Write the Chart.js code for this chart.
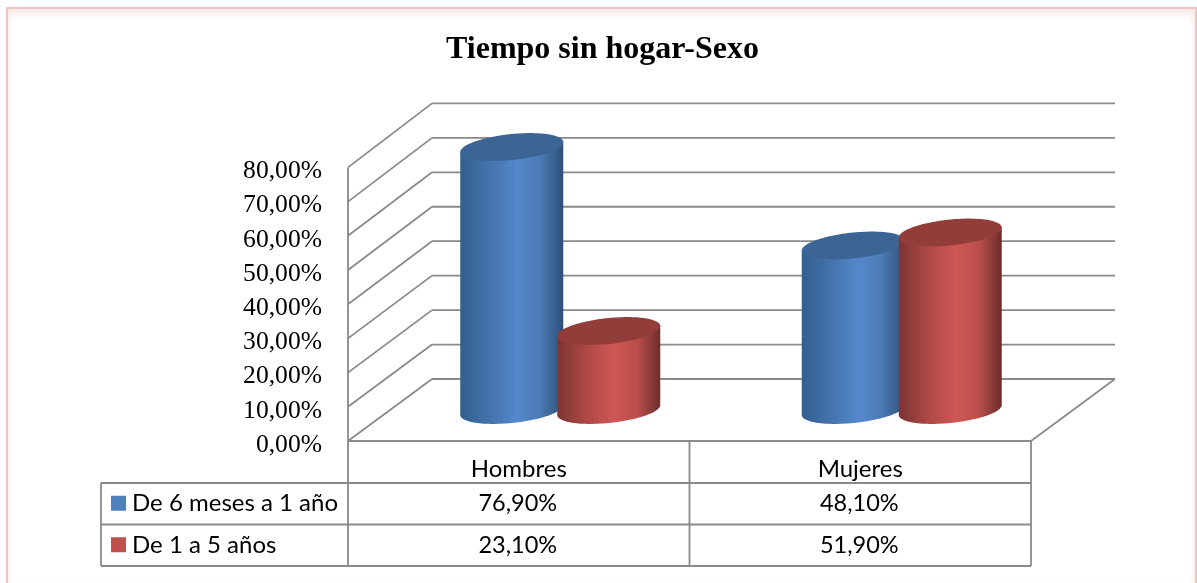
<!DOCTYPE html>
<html>
<head>
<meta charset="utf-8">
<style>
html,body{margin:0;padding:0;background:#fff;width:1197px;height:583px;overflow:hidden}
#frame{position:absolute;left:6px;top:7px;width:1187px;height:574px;border:2px solid #ecc4c3;border-bottom:1px solid #f0ecec;box-shadow:inset 0 10px 9px -5px #f8e6e5,inset 5px 0 6px -5px #f8e6e5,inset -5px 0 6px -4px #f8e6e5}
#wrap{position:absolute;left:0;top:0;width:1197px;height:583px}
</style>
<script src="https://cdn.jsdelivr.net/npm/chart.js@4"></script>
</head>
<body>
<div id="frame"></div>
<div id="wrap"><canvas id="c" width="1197" height="583"></canvas></div>
<script>
const titleText = 'Tiempo sin hogar-Sexo';
const categories = ['Hombres', 'Mujeres'];
const seriesNames = ['De 6 meses a 1 año', 'De 1 a 5 años'];
const sixMonthsToOneYear = [76.9, 48.1];
const oneToFiveYears = [23.1, 51.9];

const LINE = '#8a8a8a';
const fmt = v => v.toFixed(2).replace('.', ',') + '%';
const depthX = 84, floorDepthY = 62, wallScale = 276/274;
const styles = [
  {key:'#4f81bd', top:'#3c6595', stops:['#335f8f','#4373ab','#5588cc','#4b7ab4','#2e4f78']},
  {key:'#c0504d', top:'#933d3b', stops:['#7c3432','#ad4846','#d05755','#b94f4c','#6c2c2b']}
];

function line(ctx, x1, y1, x2, y2){ ctx.beginPath(); ctx.moveTo(x1,y1); ctx.lineTo(x2,y2); ctx.stroke(); }

function drawCylinder(ctx, el, s){
  const cx = el.x + 41.5, hw = el.width/2;
  const yTop = el.y - 31, yBase = el.base - 31;
  const hh = 13, k = 5;
  const ex = (cy,t) => [cx + hw*Math.cos(t), cy + hh*Math.sin(t) - k*Math.cos(t)];
  const g = ctx.createLinearGradient(cx-hw,0,cx+hw,0);
  [0,.28,.55,.78,1].forEach((p,i)=>g.addColorStop(p,s.stops[i]));
  ctx.beginPath();
  let p = ex(yTop,Math.PI); ctx.moveTo(p[0],p[1]);
  for(let i=0;i<=60;i++){ p = ex(yBase,Math.PI - Math.PI*i/60); ctx.lineTo(p[0],p[1]); }
  p = ex(yTop,0); ctx.lineTo(p[0],p[1]);
  ctx.closePath(); ctx.fillStyle = g; ctx.fill();
  ctx.beginPath();
  for(let i=0;i<=120;i++){ p = ex(yTop,2*Math.PI*i/120); i?ctx.lineTo(p[0],p[1]):ctx.moveTo(p[0],p[1]); }
  ctx.closePath(); ctx.fillStyle = s.top; ctx.fill();
}

const scene = {
  id:'scene',
  beforeDatasetsDraw(chart){
    const {ctx, chartArea:a, scales:{x,y}} = chart;
    const left = a.left, right = a.right, bottom = a.bottom;
    ctx.save();
    ctx.strokeStyle = LINE; ctx.lineWidth = 1.8;
    y.ticks.forEach(t=>{
      const py = y.getPixelForValue(t.value);
      const by = bottom - floorDepthY - (bottom-py)*wallScale;
      line(ctx,left,py,left+depthX,by);
      line(ctx,left+depthX,by,right+depthX,by);
    });
    line(ctx,left,a.top,left,bottom);
    line(ctx,right,bottom,right+depthX,bottom-floorDepthY);
    const rowH = 41.5, tableLeft = 101, r1 = bottom+42, r2 = r1+rowH, r3 = r2+rowH;
    const mid = (x.getPixelForValue(0)+x.getPixelForValue(1))/2;
    line(ctx,left,bottom,right,bottom);
    [r1,r2,r3].forEach(r=>line(ctx,tableLeft,r,right,r));
    line(ctx,left,bottom,left,r3);
    line(ctx,mid,bottom,mid,r3);
    line(ctx,right,bottom,right,r3);
    line(ctx,tableLeft,r1,tableLeft,r3);
    ctx.textBaseline = 'middle';
    chart.data.datasets.forEach((d,i)=>{
      const cy = r1 + rowH*(i+.5);
      ctx.fillStyle = styles[i].key; ctx.fillRect(111,cy-8,15,15);
      ctx.fillStyle = '#000'; ctx.textAlign = 'left';
      ctx.font = '24px Lato';
      ctx.fillText(d.label,132,cy);
      ctx.textAlign = 'center';
      ctx.font = '23.5px Lato';
      d.data.forEach((v,j)=>ctx.fillText(fmt(v),x.getPixelForValue(j)-1,cy));
    });
    chart.data.datasets.forEach((d,i)=>{
      chart.getDatasetMeta(i).data.forEach(el=>drawCylinder(ctx,el,styles[i]));
    });
    ctx.restore();
  },
  beforeDatasetDraw(){ return false; }
};

new Chart(document.getElementById('c'),{
  type:'bar',
  data:{labels:categories,datasets:[
    {label:seriesNames[0],data:sixMonthsToOneYear,backgroundColor:styles[0].key},
    {label:seriesNames[1],data:oneToFiveYears,backgroundColor:styles[1].key}
  ]},
  plugins:[scene],
  options:{
    responsive:false,animation:false,
    layout:{padding:{left:174,right:166,top:0,bottom:0}},
    datasets:{bar:{categoryPercentage:0.568,barPercentage:1.062}},
    plugins:{
      legend:{display:false},tooltip:{enabled:false},
      title:{display:true,text:titleText,color:'#000',
        font:{family:'"Liberation Serif"',size:32,weight:'bold',lineHeight:1.2},
        padding:{top:31,bottom:98}}
    },
    scales:{
      x:{
        grid:{display:false,drawTicks:false},border:{display:false},
        ticks:{color:'#000',font:{family:'Lato',size:24},padding:14,maxRotation:0},
        afterFit(s){s.height=142;}
      },
      y:{
        min:0,max:80,
        grid:{display:false,drawTicks:false},border:{display:false},
        ticks:{stepSize:10,color:'#000',padding:26,labelOffset:4,
          font:{family:'"Liberation Serif"',size:25.6},callback:v=>fmt(v)},
        afterFit(s){s.width=174;}
      }
    }
  }
});
</script>
</body>
</html>
